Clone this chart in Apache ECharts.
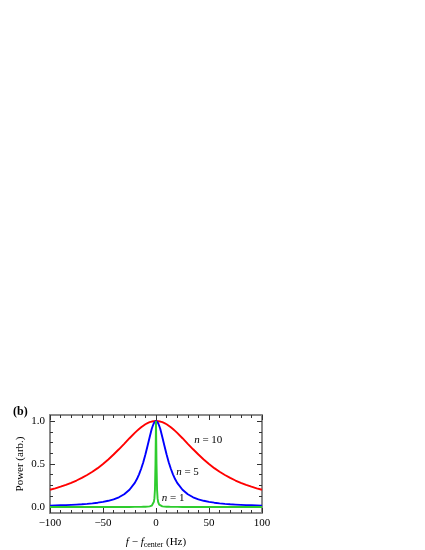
<!DOCTYPE html>
<html>
<head>
<meta charset="utf-8">
<script src="https://cdn.jsdelivr.net/npm/echarts@6/dist/echarts.min.js"></script>
<style>
  html, body { margin: 0; padding: 0; background: #fff; }
  #chart { width: 425px; height: 550px; }
</style>
</head>
<body>
<div id="chart"></div>
<script>
// frequency offset (Hz), shared by all three curves
const freq = [-100, -95, -90, -85, -80, -75, -70, -65, -60, -55, -50, -45, -40, -35, -30, -25,
  -20, -18, -16, -14, -12, -10, -8, -6, -4, -3, -2, -1.5, -1, -0.5,
  0,
  0.5, 1, 1.5, 2, 3, 4, 6, 8, 10, 12, 14, 16, 18, 20,
  25, 30, 35, 40, 45, 50, 55, 60, 65, 70, 75, 80, 85, 90, 95, 100]

// n = 10 (red)
const power10 = [0.20, 0.217, 0.236, 0.257, 0.281, 0.308, 0.338, 0.372, 0.41, 0.452, 0.50, 0.552, 0.61, 0.671, 0.735, 0.80,
  0.862, 0.885, 0.907, 0.927, 0.945, 0.962, 0.975, 0.986, 0.994, 0.996, 0.998, 0.999, 1, 1,
  1,
  1, 1, 0.999, 0.998, 0.996, 0.994, 0.986, 0.975, 0.962, 0.945, 0.927, 0.907, 0.885, 0.862,
  0.80, 0.735, 0.671, 0.61, 0.552, 0.50, 0.452, 0.41, 0.372, 0.338, 0.308, 0.281, 0.257, 0.236, 0.217, 0.20]

// n = 5 (blue)
const power5 = [0.016, 0.018, 0.02, 0.022, 0.025, 0.028, 0.031, 0.036, 0.042, 0.05, 0.059, 0.072, 0.089, 0.113, 0.148, 0.2,
  0.28, 0.325, 0.38, 0.445, 0.52, 0.61, 0.71, 0.81, 0.91, 0.945, 0.975, 0.986, 0.994, 0.998,
  1,
  0.998, 0.994, 0.986, 0.975, 0.945, 0.91, 0.81, 0.71, 0.61, 0.52, 0.445, 0.38, 0.325, 0.28,
  0.2, 0.148, 0.113, 0.089, 0.072, 0.059, 0.05, 0.042, 0.036, 0.031, 0.028, 0.025, 0.022, 0.02, 0.018, 0.016]

// n = 1 (green)
const power1 = [0, 0, 0, 0, 0, 0, 0, 0, 0, 0, 0, 0, 0, 0, 0, 0,
  0.001, 0.001, 0.001, 0.0013, 0.002, 0.0025, 0.004, 0.007, 0.015, 0.027, 0.06, 0.1, 0.2, 0.5,
  1,
  0.5, 0.2, 0.1, 0.06, 0.027, 0.015, 0.007, 0.004, 0.0025, 0.002, 0.0013, 0.001, 0.001, 0.001,
  0, 0, 0, 0, 0, 0, 0, 0, 0, 0, 0, 0, 0, 0, 0, 0]

const yMajor = [0, 0.5, 1]
const yMinor = [0.125, 0.25, 0.375, 0.625, 0.75, 0.875]

// curve labels [freq, power, text]
const curveLabels = [
  [36, 0.775, 'n = 10'],
  [19, 0.41, 'n = 5'],
  [5.5, 0.10, 'n = 1']
]

const font = 'Liberation Serif'
const frameColor = '#8a8a8a'
const tickColor = '#333'

function pairs(ys) {
  return freq.map((f, i) => [f, ys[i]])
}

function labelText(t) {
  // italic n
  return '{i|n}' + t.slice(1)
}

let myChart = echarts.init(document.getElementById('chart'))

const xBase = {
  type: 'value',
  min: -100,
  max: 100,
  interval: 50,
  axisLine: { show: true, onZero: false, lineStyle: { color: frameColor, width: 2 } },
  axisTick: { show: true, inside: true, length: 5, lineStyle: { color: tickColor, width: 1 } },
  minorTick: { show: true, splitNumber: 5, length: 3, lineStyle: { color: tickColor, width: 1 } },
  splitLine: { show: false }
}

const yBase = {
  type: 'value',
  min: -0.07,
  max: 1.07,
  axisLine: { show: true, onZero: false, lineStyle: { color: frameColor, width: 2 } },
  splitLine: { show: false }
}

const noLine = { show: false, onZero: false }

myChart.setOption({
  animation: false,
  textStyle: { fontFamily: font },
  title: {
    text: '(b)',
    left: 13,
    top: 406,
    padding: 0,
    textStyle: { fontFamily: font, fontWeight: 'bold', fontSize: 12, color: '#000' }
  },
  grid: { left: 50, right: 163, top: 415, bottom: 35 },
  xAxis: [
    Object.assign({}, xBase, {
      position: 'bottom',
      name: '{i|f} − {i|f}{sub|center} (Hz)',
      nameLocation: 'middle',
      nameGap: 23,
      nameTextStyle: {
        color: '#000',
        fontSize: 11,
        fontFamily: font,
        rich: {
          i: { fontStyle: 'italic', fontSize: 11, fontFamily: font, color: '#000' },
          sub: { fontSize: 8, fontFamily: font, color: '#000', padding: [5, 0, 0, 0] }
        }
      },
      axisLabel: {
        color: '#000',
        fontSize: 11,
        margin: 5,
        formatter: v => String(v).replace('-', '−')
      }
    }),
    Object.assign({}, xBase, {
      position: 'top',
      axisLabel: { show: false }
    })
  ],
  yAxis: [
    Object.assign({}, yBase, {
      position: 'left',
      name: 'Power (arb.)',
      nameLocation: 'middle',
      nameGap: 24,
      nameTextStyle: { color: '#000', fontSize: 11, fontFamily: font },
      axisTick: { show: true, inside: true, length: 5, customValues: yMajor, lineStyle: { color: tickColor, width: 1 } },
      axisLabel: { color: '#000', fontSize: 11, margin: 5, customValues: yMajor, formatter: v => v.toFixed(1) }
    }),
    Object.assign({}, yBase, {
      position: 'left',
      axisLine: noLine,
      axisTick: { show: true, inside: true, length: 3, customValues: yMinor, lineStyle: { color: tickColor, width: 1 } },
      axisLabel: { show: false }
    }),
    Object.assign({}, yBase, {
      position: 'right',
      axisTick: { show: true, inside: true, length: 5, customValues: yMajor, lineStyle: { color: tickColor, width: 1 } },
      axisLabel: { show: false }
    }),
    Object.assign({}, yBase, {
      position: 'right',
      axisLine: noLine,
      axisTick: { show: true, inside: true, length: 3, customValues: yMinor, lineStyle: { color: tickColor, width: 1 } },
      axisLabel: { show: false }
    })
  ],
  series: [
    {
      name: 'n = 10',
      type: 'line',
      data: pairs(power10),
      showSymbol: false,
      lineStyle: { color: '#ff0000', width: 1.9 },
      z: 2
    },
    {
      name: 'n = 5',
      type: 'line',
      data: pairs(power5),
      showSymbol: false,
      lineStyle: { color: '#0000ff', width: 1.9 },
      z: 3
    },
    {
      name: 'n = 1',
      type: 'line',
      data: pairs(power1),
      showSymbol: false,
      lineStyle: { color: '#2ecc2e', width: 1.9 },
      z: 4,
      markPoint: {
        symbol: 'circle',
        symbolSize: 0,
        silent: true,
        data: curveLabels.map(d => ({
          coord: [d[0], d[1]],
          label: {
            show: true,
            position: 'inside',
            align: 'left',
            verticalAlign: 'middle',
            color: '#000',
            fontSize: 11,
            fontFamily: font,
            formatter: labelText(d[2]),
            rich: { i: { fontStyle: 'italic', fontSize: 11, fontFamily: font, color: '#000' } }
          }
        }))
      }
    }
  ]
})
</script>
</body>
</html>
